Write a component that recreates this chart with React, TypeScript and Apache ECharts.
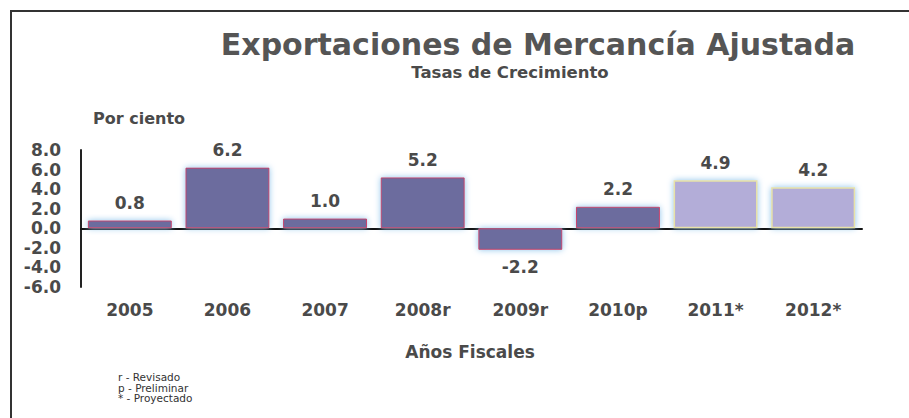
import React, { useEffect, useRef } from "react";
import * as echarts from "echarts";

const categories = ["2005", "2006", "2007", "2008r", "2009r", "2010p", "2011*", "2012*"];
const values = [0.8, 6.2, 1.0, 5.2, -2.2, 2.2, 4.9, 4.2];
const projected = [false, false, false, false, false, false, true, true];
const yTicks = { min: -6, max: 8, interval: 2 };
const notes = ["r - Revisado", "p - Preliminar", "* - Proyectado"];

const FONT = "'DejaVu Sans', Arial, sans-serif";
const TXT = "#4a4a4a";

export default function App() {
  const ref = useRef<HTMLDivElement>(null);
  useEffect(() => {
    if (!ref.current) return;
    const chart = echarts.init(ref.current, undefined, { renderer: "svg" });
    const data = values.map((v, i) => ({
      value: v,
      itemStyle: projected[i]
        ? { color: "#b3add8", borderColor: "#e8e2a8", borderWidth: 1.5, shadowColor: "#8cc4ec", shadowBlur: 6 }
        : { color: "#6c6c9e", borderColor: "#c8406a", borderWidth: 1, shadowColor: "#8cc4ec", shadowBlur: 6 },
      label: { position: v < 0 ? "bottom" : "top" },
    }));
    chart.setOption({
      animation: false,
      backgroundColor: "#ffffff",
      grid: { left: 81, right: 47, top: 150, bottom: 418 - 287, containLabel: false },
      xAxis: {
        type: "category",
        data: categories,
        axisLine: { onZero: true, lineStyle: { color: "#111", width: 2 } },
        axisTick: { show: false },
        axisLabel: { margin: 14, color: TXT, fontFamily: FONT, fontWeight: "bold", fontSize: 17 },
      },
      yAxis: {
        type: "value",
        min: yTicks.min,
        max: yTicks.max,
        interval: yTicks.interval,
        splitLine: { show: false },
        axisTick: { show: false },
        axisLine: { show: true, lineStyle: { color: "#222", width: 2 } },
        axisLabel: {
          margin: 20,
          color: TXT,
          fontFamily: FONT,
          fontWeight: "bold",
          fontSize: 17,
          formatter: (v: number) => v.toFixed(1),
        },
      },
      series: [
        {
          type: "bar",
          data,
          barWidth: "86%",
          label: {
            show: true,
            distance: 9,
            color: TXT,
            fontFamily: FONT,
            fontWeight: "bold",
            fontSize: 17,
            formatter: (p: any) => Number(p.value).toFixed(1),
          },
        },
      ],
      graphic: [
        { type: "polyline", shape: { points: [[11, 430], [11, 11], [920, 11]] }, style: { stroke: "#333", lineWidth: 2, fill: "none" } },
        { type: "text", x: 538, y: 44, style: { text: "Exportaciones de Mercancía Ajustada", fill: "#555", font: `bold 30px ${FONT}`, textAlign: "center", textVerticalAlign: "middle" } },
        { type: "text", x: 510, y: 72, style: { text: "Tasas de Crecimiento", fill: TXT, font: `bold 16.5px ${FONT}`, textAlign: "center", textVerticalAlign: "middle" } },
        { type: "text", x: 93, y: 118, style: { text: "Por ciento", fill: TXT, font: `bold 16px ${FONT}`, textAlign: "left", textVerticalAlign: "middle" } },
        { type: "text", x: 470, y: 352, style: { text: "Años Fiscales", fill: TXT, font: `bold 17px ${FONT}`, textAlign: "center", textVerticalAlign: "middle" } },
        ...notes.map((n, i) => ({
          type: "text",
          x: 118,
          y: 377 + i * 10.5,
          style: { text: n, fill: "#333", font: `10.5px ${FONT}`, textAlign: "left", textVerticalAlign: "middle" },
        })),
      ],
    });
    return () => chart.dispose();
  }, []);
  return <div ref={ref} style={{ width: 909, height: 418, position: "absolute", left: 0, top: 0 }} />;
}
